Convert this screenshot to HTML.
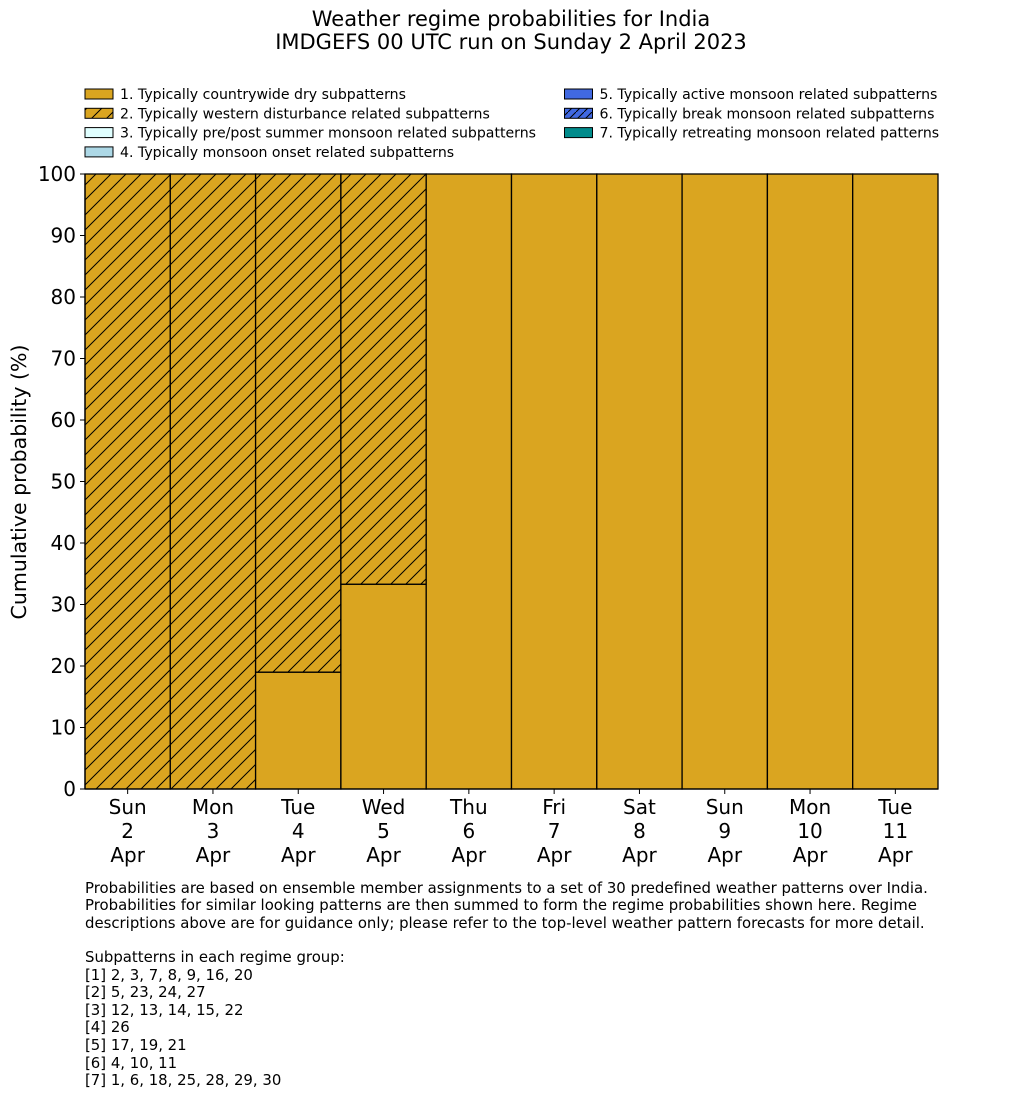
<!DOCTYPE html>
<html><head><meta charset="utf-8"><style>
body{margin:0;background:#fff;}
svg text{font-family:"DejaVu Sans","Liberation Sans",sans-serif;fill:#000;}
</style></head><body>
<svg id="chart" width="1033" height="1114" viewBox="0 0 1033 1114" xmlns="http://www.w3.org/2000/svg">
<defs>
<pattern id="hatch" patternUnits="userSpaceOnUse" width="15" height="15">
<rect width="15" height="15" fill="#daa520"/>
<path d="M-1,16 L16,-1 M-8,8 L8,-8 M7,23 L23,7" stroke="#000" stroke-width="1"/>
</pattern>
<pattern id="hatchblue" patternUnits="userSpaceOnUse" width="8" height="8">
<rect width="8" height="8" fill="#4169e1"/>
<path d="M-1,9 L9,-1" stroke="#000" stroke-width="1"/>
</pattern>
</defs>
<text x="511" y="26" font-size="21" text-anchor="middle">Weather regime probabilities for India</text>
<text x="511" y="49" font-size="21" text-anchor="middle">IMDGEFS 00 UTC run on Sunday 2 April 2023</text>
<g id="legend"></g>
<g id="bars"></g>
<g id="axes"></g>
<text transform="translate(26,482) rotate(-90)" font-size="20.5" text-anchor="middle">Cumulative probability (%)</text>
<g font-size="14.9">
<text x="85" y="893">Probabilities are based on ensemble member assignments to a set of 30 predefined weather patterns over India.</text>
<text x="85" y="910">Probabilities for similar looking patterns are then summed to form the regime probabilities shown here. Regime</text>
<text x="85" y="928">descriptions above are for guidance only; please refer to the top-level weather pattern forecasts for more detail.</text>
<text x="85" y="962">Subpatterns in each regime group:</text>
<text x="85" y="980">[1] 2, 3, 7, 8, 9, 16, 20</text>
<text x="85" y="997">[2] 5, 23, 24, 27</text>
<text x="85" y="1015">[3] 12, 13, 14, 15, 22</text>
<text x="85" y="1032">[4] 26</text>
<text x="85" y="1050">[5] 17, 19, 21</text>
<text x="85" y="1068">[6] 4, 10, 11</text>
<text x="85" y="1085">[7] 1, 6, 18, 25, 28, 29, 30</text>
</g>
</svg>
<script>
const days = ["Sun","Mon","Tue","Wed","Thu","Fri","Sat","Sun","Mon","Tue"];
const dates = ["2","3","4","5","6","7","8","9","10","11"];
const dry = [0,0,19,33.3,100,100,100,100,100,100];
const westernDist = [100,100,81,66.7,0,0,0,0,0,0];
const yTicks = [0,10,20,30,40,50,60,70,80,90,100];
const legendLabels = ["1. Typically countrywide dry subpatterns","2. Typically western disturbance related subpatterns","3. Typically pre/post summer monsoon related subpatterns","4. Typically monsoon onset related subpatterns","5. Typically active monsoon related subpatterns","6. Typically break monsoon related subpatterns","7. Typically retreating monsoon related patterns"];

const NS="http://www.w3.org/2000/svg";
const X0=85,X1=938,Y0=789,Y1=174;
const bw=(X1-X0)/days.length;
const y=v=>Y0-(v/100)*(Y0-Y1);
const x=i=>X0+i*bw;
function mk(tag,attrs,parent){const e=document.createElementNS(NS,tag);for(const k in attrs)e.setAttribute(k,attrs[k]);parent.appendChild(e);return e;}

const bars=document.getElementById('bars');
days.forEach((d,i)=>{
  let base=0;
  if(dry[i]>0){
    const r=mk('rect',{x:x(i),y:y(base+dry[i]),width:bw,height:y(base)-y(base+dry[i]),fill:'#daa520',stroke:'#000','stroke-width':1.3},bars);
    
    
    base+=dry[i];
  }
  if(westernDist[i]>0){
    const r=mk('rect',{x:x(i),y:y(base+westernDist[i]),width:bw,height:y(base)-y(base+westernDist[i]),fill:'url(#hatch)',stroke:'#000','stroke-width':1.3},bars);
    
    
    base+=westernDist[i];
  }
});

const axes=document.getElementById('axes');
mk('line',{x1:X0,y1:Y0,x2:X1,y2:Y0,stroke:'#000','stroke-width':1.3},axes);
mk('line',{x1:X0,y1:Y0,x2:X0,y2:Y1,stroke:'#000','stroke-width':1.3},axes);
yTicks.forEach(t=>{
  mk('line',{x1:X0-5,y1:y(t),x2:X0,y2:y(t),stroke:'#000','stroke-width':1},axes);
  const tx=mk('text',{x:X0-9,y:y(t)+7,'font-size':20,'text-anchor':'end'},axes);
  tx.textContent=t;
  
  
});
days.forEach((d,i)=>{
  const cx=x(i)+bw/2;
  mk('line',{x1:cx,y1:Y0,x2:cx,y2:Y0+5,stroke:'#000','stroke-width':1},axes);
  [d,dates[i],"Apr"].forEach((s,j)=>{
    const tx=mk('text',{x:cx,y:814+j*24,'font-size':20,'text-anchor':'middle'},axes);
    tx.textContent=s;
    
    
  });
});

const legend=document.getElementById('legend');
const fills=['#daa520','url(#hatch)','#e0ffff','#add8e6','#4169e1','url(#hatchblue)','#008b8b'];
legendLabels.forEach((l,i)=>{
  const col=i<4?0:1, row=i<4?i:i-4;
  const lx=col?564.5:85, ly=89+row*19.3;
  mk('rect',{x:lx,y:ly,width:28,height:10,fill:fills[i],stroke:'#000','stroke-width':1},legend);
  const tx=mk('text',{x:lx+35,y:ly+10,'font-size':14.1},legend);
  tx.textContent=l;
  
  
});
</script>
</body></html>
